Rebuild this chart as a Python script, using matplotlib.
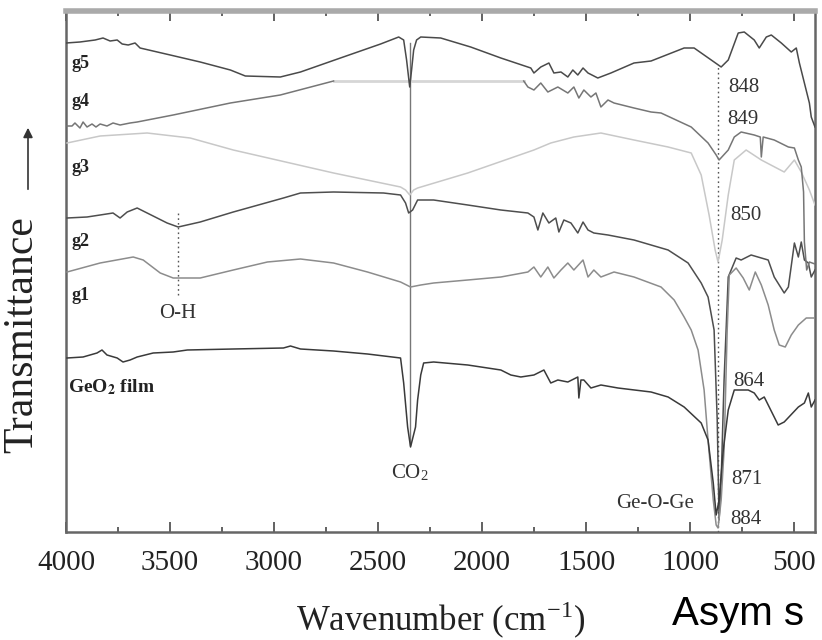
import numpy as np
import matplotlib
matplotlib.use("Agg")
import matplotlib.pyplot as plt
from matplotlib.ticker import MultipleLocator

plt.rcParams["font.family"] = ["Liberation Serif", "DejaVu Serif"]
plt.rcParams["mathtext.fontset"] = "stix"

# FTIR spectra, transmittance in arbitrary (offset) units
g5_wn = [4000, 3933, 3860, 3822, 3788, 3754, 3730, 3701, 3668, 3644, 3499, 3355, 3210, 3138,
         2970, 2873, 2681, 2488, 2401, 2377, 2363, 2348, 2339, 2329, 2315, 2295, 2199, 2055,
         1910, 1766, 1751, 1718, 1679, 1655, 1621, 1588, 1564, 1540, 1515, 1491, 1444, 1381,
         1270, 1188, 1029, 981, 885, 851, 817, 769, 740, 692, 668, 634, 610, 562, 514, 490,
         475, 451, 427, 418, 400]
g5_t = [489, 490, 492, 494, 491, 492, 488, 487, 489, 484, 477, 470, 462, 456,
        455, 460, 474, 488, 495, 492, 472, 445, 462, 482, 492, 495, 494, 485,
        474, 464, 459, 465, 469, 459, 460, 455, 462, 457, 464, 459, 454, 459,
        469, 471, 484, 484, 470, 465, 472, 499, 500, 492, 484, 495, 497, 489, 480, 484,
        469, 449, 429, 415, 405]

g4a_wn = [3995, 3971, 3957, 3933, 3918, 3899, 3875, 3856, 3836, 3803, 3774, 3740, 3692, 3658,
          3485, 3210, 2970, 2714]
g4a_t = [406, 406, 409, 404, 410, 405, 408, 405, 408, 406, 409, 407, 409, 410,
         417, 429, 437, 451]
g4b_wn = [1800, 1780, 1751, 1718, 1684, 1636, 1588, 1559, 1535, 1511, 1477, 1453, 1429, 1395,
          1366, 1270, 1188, 1140, 995, 914, 875, 861, 817, 788, 755, 692, 663, 658, 649, 596,
          528, 499, 480, 466, 455, 451, 440, 427, 400]
g4b_t = [451, 445, 442, 449, 440, 445, 439, 445, 434, 442, 435, 439, 425, 432,
         429, 424, 420, 419, 405, 389, 377, 372, 382, 395, 400, 397, 395, 375, 395, 392,
         385, 384, 372, 365, 340, 290, 262, 270, 268]

g3_wn = [3995, 3836, 3610, 3403, 3196, 2714, 2392, 2368, 2348, 2329, 2310, 2069, 1751, 1670,
         1559, 1429, 1270, 1106, 995, 947, 909, 880, 866, 846, 817, 788, 731, 658, 548, 499,
         466, 427, 400]
g3_t = [389, 396, 399, 394, 382, 359, 345, 342, 337, 342, 344, 359, 382, 389,
        395, 399, 392, 385, 379, 357, 317, 282, 270, 292, 337, 372, 382, 372, 360, 372,
        360, 342, 327]

g2_wn = [3995, 3899, 3836, 3774, 3740, 3706, 3658, 3610, 3514, 3461, 3355, 3196, 2955, 2873,
         2714, 2474, 2392, 2368, 2353, 2334, 2310, 2233, 2069, 1910, 1780, 1751, 1732, 1708,
         1679, 1646, 1631, 1607, 1573, 1540, 1515, 1491, 1463, 1395, 1270, 1106, 1010, 947,
         914, 885, 870, 861, 851, 837, 817, 779, 755, 707, 658, 625, 596, 548, 528, 499, 480,
         466, 451, 432, 418, 400]
g2_t = [314, 315, 317, 319, 314, 320, 324, 319, 309, 305, 310, 320, 334, 339,
        340, 339, 337, 329, 319, 322, 332, 332, 327, 322, 319, 315, 302, 319,
        309, 314, 300, 312, 309, 299, 310, 302, 299, 297, 292, 282, 269, 249,
        235, 202, 112, 12, 52, 152, 255, 274, 272, 277, 274, 272, 255, 239, 245, 289, 275,
        290, 272, 269, 255, 262]

g1_wn = [3995, 3836, 3677, 3629, 3547, 3485, 3355, 3196, 3032, 2873, 2714, 2551, 2392, 2344,
         2295, 2233, 2069, 1910, 1780, 1751, 1718, 1684, 1655, 1621, 1588, 1559, 1515, 1491,
         1463, 1429, 1366, 1270, 1140, 1077, 1029, 995, 962, 933, 914, 889, 875, 866, 851,
         837, 822, 812, 779, 745, 716, 687, 658, 625, 596, 572, 543, 514, 480, 442, 400]
g1_t = [260, 269, 275, 272, 259, 254, 254, 262, 270, 273, 269, 260, 250, 245,
        247, 249, 252, 255, 260, 265, 255, 265, 254, 262, 269, 262, 272, 255,
        262, 255, 260, 255, 245, 232, 215, 202, 182, 142, 92, 32, 7, 4, 32,
        82, 202, 257, 264, 254, 242, 260, 247, 227, 202, 187, 185, 197, 207, 214, 214]

geo2_wn = [3995, 3918, 3851, 3827, 3803, 3754, 3726, 3692, 3658, 3581, 3485, 3417, 3196, 2955,
           2921, 2873, 2714, 2551, 2392, 2377, 2358, 2344, 2320, 2310, 2295, 2281, 2233, 2069,
           1910, 1862, 1814, 1751, 1703, 1670, 1636, 1588, 1540, 1535, 1525, 1511, 1477, 1429,
           1347, 1188, 1106, 1029, 947, 914, 889, 875, 861, 841, 817, 788, 721, 692, 668, 644,
           577, 548, 480, 451, 432, 418, 400]
geo2_t = [174, 175, 179, 182, 177, 174, 170, 172, 175, 179, 180, 182, 183, 184,
          186, 183, 181, 178, 174, 149, 105, 85, 105, 132, 157, 169, 170, 167,
          162, 157, 155, 157, 162, 149, 152, 150, 155, 134, 152, 152, 144, 147,
          144, 140, 135, 125, 109, 92, 49, 17, 32, 82, 122, 142, 142, 139, 132, 135,
          107, 110, 125, 129, 139, 125, 132]

series = [
    ("g5", g5_wn, g5_t, "#4a4a4a"),
    ("g3", g3_wn, g3_t, "#c8c8c8"),
    ("g2", g2_wn, g2_t, "#4e4e4e"),
    ("g1", g1_wn, g1_t, "#8c8c8c"),
    ("GeO2", geo2_wn, geo2_t, "#3a3a3a"),
]

# curve labels (wavenumber, level)
curve_labels = [("g5", 3975, 469), ("g4", 3975, 431), ("g3", 3975, 364),
                ("g2", 3975, 290), ("g1", 3975, 237)]
peak_labels = [("848", 740, 445), ("849", 745, 412), ("850", 731, 316),
               ("864", 716, 150), ("871", 726, 52), ("884", 731, 12)]

co2_pos = 2348
oh_pos = 3461
geoge_pos = 866

fig = plt.figure(figsize=(8.22, 6.4), dpi=100)
ax = fig.add_axes([66 / 822, 1 - 532 / 640, (815 - 66) / 822, (532 - 11) / 640])

# marker lines
ax.plot([co2_pos, co2_pos], [87, 489], color="#777777", lw=1.0, zorder=1)
ax.plot([geoge_pos, geoge_pos], [0, 467], color="#555555", lw=1.0, ls=(0, (1.2, 2.2)), zorder=1)
ax.plot([oh_pos, oh_pos], [237, 319], color="#555555", lw=1.0, ls=(0, (1.2, 2.2)), zorder=1)

for name, wn, t, c in series:
    ax.plot(wn, t, color=c, lw=1.1, zorder=3)

# g4: flat saturated part in light gray
ax.plot(g4a_wn, g4a_t, color="#767676", lw=1.1, zorder=3)
ax.plot([g4a_wn[-1], g4b_wn[0]], [g4a_t[-1], g4b_t[0]], color="#d6d6d6", lw=2.0, zorder=2)
ax.plot(g4b_wn, g4b_t, color="#767676", lw=1.1, zorder=3)

for txt, x, y in curve_labels:
    ax.text(x, y, txt, fontsize=13, fontweight="bold", ha="left", va="center", color="#222222")
ax.text(3990, 145, r"GeO$_\mathbf{2}$ film", fontsize=14, fontweight="bold",
        ha="left", va="center", color="#222222")
for txt, x, y in peak_labels:
    ax.text(x, y, txt, fontsize=15, ha="center", va="center", color="#333333")
ax.text(oh_pos, 219, "O-H", fontsize=15, ha="center", va="center", color="#333333")
ax.text(co2_pos, 59, r"CO$_\mathregular{2}$", fontsize=15, ha="center", va="center", color="#333333")
ax.text(1169, 29, "Ge-O-Ge", fontsize=15, ha="center", va="center", color="#333333")

ax.set_xlim(4000, 400)
ax.set_ylim(0, 521)
ax.set_yticks([])
ax.xaxis.set_major_locator(MultipleLocator(500))
ax.xaxis.set_minor_locator(MultipleLocator(250))
ax.tick_params(axis="x", which="both", direction="in", top=True, bottom=True,
               colors="#555555", labelcolor="#222222", labelsize=21, pad=13)
ax.tick_params(axis="x", which="major", length=7, width=1.3)
ax.tick_params(axis="x", which="minor", length=3.5, width=1.3)
for side in ["left", "right", "bottom"]:
    ax.spines[side].set_color("#666666")
    ax.spines[side].set_linewidth(1.8)
ax.spines["top"].set_color("#aaaaaa")
ax.spines["top"].set_linewidth(4)

fig.text(441 / 822, 1 - 620 / 640, r"Wavenumber (cm$^{\mathregular{-1}}$)", fontsize=25,
         ha="center", va="center", color="#222222")
fig.text(22 / 822, 1 - 335 / 640, "Transmittance", fontsize=30, rotation=90,
         ha="center", va="center", color="#222222")
fig.add_artist(matplotlib.patches.FancyArrowPatch(
    (28 / 822, 1 - 192 / 640), (28 / 822, 1 - 125 / 640), transform=fig.transFigure,
    arrowstyle="-|>", mutation_scale=14, color="#333333", lw=1.2))
fig.text(672 / 822, 1 - 625 / 640, "Asym s", fontsize=29, family="Liberation Sans",
         ha="left", va="baseline", color="black")

fig.savefig("out.png", dpi=100, facecolor="white")
